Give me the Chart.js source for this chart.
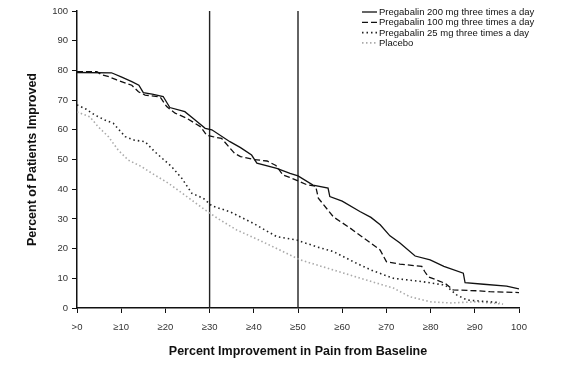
<!DOCTYPE html>
<html>
<head>
<meta charset="utf-8">
<script src="https://cdn.jsdelivr.net/npm/chart.js@4.4.1/dist/chart.umd.min.js"></script>
<style>
  html, body { margin: 0; padding: 0; background: #fff; }
  #wrap { width: 580px; height: 371px; }
</style>
</head>
<body>
<div id="wrap"><canvas id="painChart" width="580" height="371"></canvas></div>
<script>
// values
const xTickLabels = ['>0', '\u226510', '\u226520', '\u226530', '\u226540', '\u226550', '\u226560', '\u226570', '\u226580', '\u226590', '100']
const yTicks = [0, 10, 20, 30, 40, 50, 60, 70, 80, 90, 100]
const seriesNames = ['Pregabalin 200 mg three times a day', 'Pregabalin 100 mg three times a day', 'Pregabalin 25 mg three times a day', 'Placebo']

const pregab200X = [0, 7.8, 10, 12.4, 14, 15, 17, 19.5, 21, 24.4, 27, 29, 30.5, 34.6, 37, 39.5, 40.7, 45.2, 48.2, 50, 53.4, 56.8, 57.2, 60, 64, 66.5, 68.6, 70.8, 73, 76.5, 79.9, 83, 87.4, 87.8, 92, 97.2, 100]
const pregab200Y = [79.3, 79.2, 77.8, 76.2, 75, 72.5, 72, 71.2, 67.5, 66.1, 63, 60.5, 60, 56, 54, 51.5, 48.8, 47, 45.3, 44.5, 41.4, 40.4, 37.5, 36, 32.5, 30.5, 28, 24.3, 22, 17.5, 16.2, 14, 11.7, 8.5, 8, 7.4, 6.4]

const pregab100X = [0, 4.5, 5.6, 7, 9, 12.4, 13.9, 15.4, 18.8, 20.3, 22.2, 24.8, 28, 29.3, 30.7, 32.7, 35.7, 37, 40, 43, 45, 46.6, 48.1, 50, 52, 54, 54.6, 58, 61.8, 65.5, 68.6, 70, 73, 78, 78.7, 79.5, 83.3, 85.1, 90.4, 93.4, 100]
const pregab100Y = [79.6, 79.6, 78.5, 78, 76.8, 75, 72.8, 71.7, 71.1, 67.8, 65.6, 63.9, 61, 58.2, 57.7, 57.1, 52, 51, 50, 49.5, 48, 44.8, 44, 42.8, 41.5, 41, 37, 30.7, 26.9, 22.9, 19.5, 15.6, 14.8, 14, 12.2, 10.5, 8.3, 6.1, 5.8, 5.5, 5.2]

const pregab25X = [0, 2, 4, 6.3, 8.2, 10.9, 13, 15.4, 17.6, 21.4, 23.7, 26, 28.6, 30.5, 34.6, 39.9, 45.2, 49.7, 54.2, 58, 63.3, 67, 71.6, 78, 83.3, 85.9, 88.2, 95.7]
const pregab25Y = [68.4, 67, 65, 63.3, 62.2, 57.7, 56.5, 56, 52.6, 47.6, 43.7, 38.6, 36.9, 34.4, 32.4, 28.5, 24, 22.9, 20.6, 19, 15, 12.5, 10, 8.9, 7.7, 4.4, 2.7, 1.8]

const placeboX = [0, 2.9, 4.8, 7.1, 9.3, 11.6, 14.6, 16.9, 20.7, 24.4, 29, 32, 36.1, 41, 45.9, 50.5, 58, 65.5, 71.6, 75.3, 79.9, 84.4, 90.4, 96.4]
const placeboY = [66, 64.4, 61, 57.7, 53.2, 49.8, 47.6, 45.4, 42, 38, 33, 30, 26.3, 23, 19.5, 16.2, 12.8, 9.4, 6.7, 3.8, 2.1, 1.7, 2.1, 1.3]

const markerLines = [30, 50]

function toPoints(xs, ys) {
    return xs.map((x, i) => ({x: x, y: ys[i]}))
}

const lineStyles = [
    {color: '#111', dash: [], width: 1.3},
    {color: '#111', dash: [6, 3], width: 1.3},
    {color: '#222', dash: [1.5, 3], width: 1.6},
    {color: '#aaa', dash: [1.5, 2.5], width: 1.6}
]
const allX = [pregab200X, pregab100X, pregab25X, placeboX]
const allY = [pregab200Y, pregab100Y, pregab25Y, placeboY]

const datasets = seriesNames.map((name, i) => ({
    label: name,
    data: toPoints(allX[i], allY[i]),
    borderColor: lineStyles[i].color,
    borderDash: lineStyles[i].dash,
    borderWidth: lineStyles[i].width,
    pointRadius: 0,
    tension: 0,
    fill: false
}))

markerLines.forEach(v => {
    datasets.push({
        label: '',
        data: [{x: v, y: 0}, {x: v, y: 100}],
        borderColor: '#222',
        borderWidth: 1.4,
        pointRadius: 0,
        fill: false
    })
})

// simple stacked legend in the top right corner
const stackedLegend = {
    id: 'stackedLegend',
    afterDraw(chart) {
        const ctx = chart.ctx
        ctx.save()
        ctx.font = '9.5px "Liberation Sans", Arial, sans-serif'
        ctx.textBaseline = 'middle'
        ctx.fillStyle = '#111'
        for (let i = 0; i < seriesNames.length; i++) {
            const y = 12 + i * 10.3
            const ds = chart.data.datasets[i]
            ctx.beginPath()
            ctx.strokeStyle = ds.borderColor
            ctx.lineWidth = ds.borderWidth
            ctx.setLineDash(ds.borderDash)
            ctx.moveTo(362, y)
            ctx.lineTo(377, y)
            ctx.stroke()
            ctx.setLineDash([])
            ctx.fillText(seriesNames[i], 379, y + 0.5)
        }
        ctx.restore()
    }
}

new Chart(document.getElementById('painChart'), {
    type: 'line',
    data: {datasets: datasets},
    plugins: [stackedLegend],
    options: {
        responsive: false,
        animation: false,
        devicePixelRatio: 1,
        layout: {padding: {top: 11, right: 61, left: 0, bottom: 0}},
        plugins: {
            legend: {display: false},
            tooltip: {enabled: false}
        },
        scales: {
            x: {
                type: 'linear',
                min: 0,
                max: 100,
                afterFit: function(scale) { scale.height = 63 },
                afterBuildTicks: function(scale) {
                    scale.ticks = xTickLabels.map((t, i) => ({value: i * 10}))
                },
                ticks: {
                    autoSkip: false,
                    maxRotation: 0,
                    padding: 9,
                    color: '#333',
                    font: {family: '"Liberation Sans", Arial, sans-serif', size: 9.5},
                    callback: function(value, index) { return xTickLabels[index] }
                },
                grid: {drawOnChartArea: false, drawTicks: true, tickLength: 5, color: '#111'},
                border: {color: '#111', width: 1.5},
                title: {
                    display: true,
                    text: 'Percent Improvement in Pain from Baseline',
                    color: '#111',
                    font: {family: '"Liberation Sans", Arial, sans-serif', size: 12.5, weight: 'bold'},
                    padding: {top: 0, bottom: 11.5}
                }
            },
            y: {
                min: 0,
                max: 100,
                afterFit: function(scale) { scale.width = 77 },
                afterBuildTicks: function(scale) {
                    scale.ticks = yTicks.map(v => ({value: v}))
                },
                ticks: {
                    padding: 4,
                    color: '#333',
                    font: {family: '"Liberation Sans", Arial, sans-serif', size: 9.5}
                },
                grid: {drawOnChartArea: false, drawTicks: true, tickLength: 5, color: '#111'},
                border: {color: '#111', width: 1.5},
                title: {
                    display: true,
                    text: 'Percent of Patients Improved',
                    color: '#111',
                    font: {family: '"Liberation Sans", Arial, sans-serif', size: 12.5, weight: 'bold'},
                    padding: {top: 25.5, bottom: 0}
                }
            }
        }
    }
})
</script>
</body>
</html>
